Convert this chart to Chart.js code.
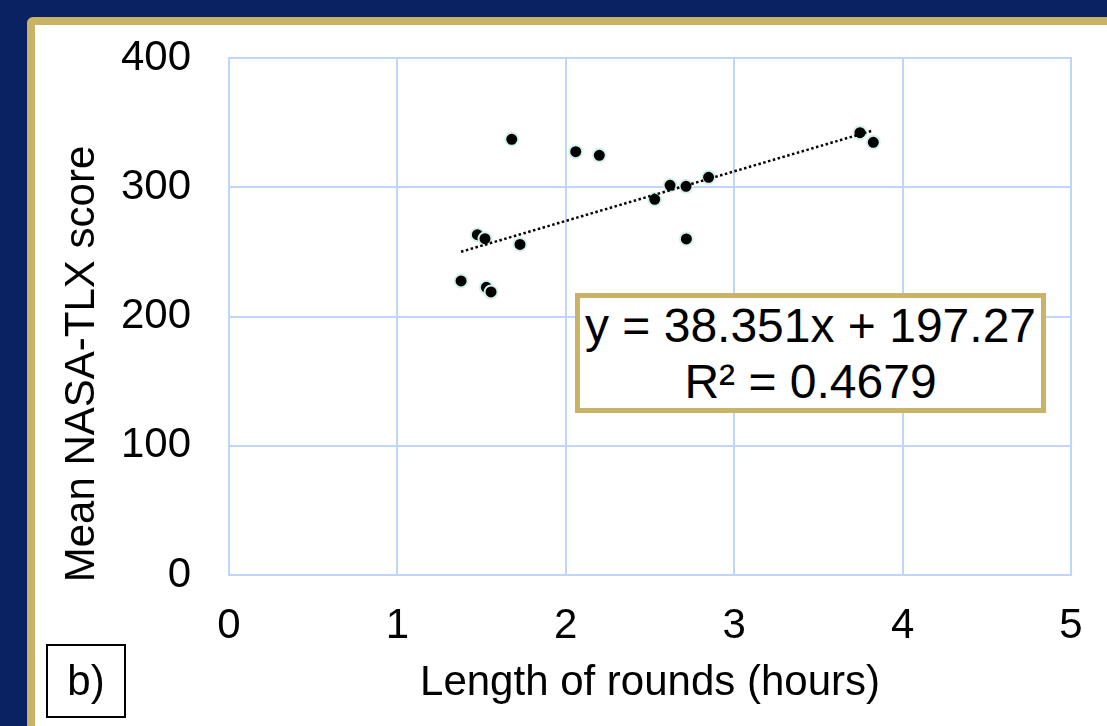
<!DOCTYPE html>
<html>
<head>
<meta charset="utf-8">
<script src="https://cdn.jsdelivr.net/npm/chart.js@4.4.1/dist/chart.umd.min.js"></script>
<style>
    html, body {
        margin: 0;
        padding: 0;
        width: 1107px;
        height: 726px;
        overflow: hidden;
        background: #0b2262;
        font-family: "Liberation Sans", Arial, sans-serif;
    }
    #panel {
        position: absolute;
        left: 27px;
        top: 17px;
        width: 1120px;
        height: 760px;
        border: 8px solid #c9b367;
        border-radius: 6px;
        background: #ffffff;
    }
    #chartBox {
        position: absolute;
        left: 0;
        top: 0;
        width: 1107px;
        height: 726px;
    }
    #equation {
        position: absolute;
        left: 575px;
        top: 293px;
        width: 461px;
        height: 110px;
        border: 5px solid #c9b367;
        background: #ffffff;
        text-align: center;
        font-size: 48px;
        line-height: 56px;
        color: #000;
    }
    #panelLabel {
        position: absolute;
        left: 46px;
        top: 644px;
        width: 76px;
        height: 70px;
        border: 2px solid #000;
        text-align: center;
        font-size: 42px;
        line-height: 70px;
        color: #000;
    }
</style>
</head>
<body>
<div id="panel"></div>
<div id="chartBox"><canvas id="chart" width="1107" height="726"></canvas></div>
<div id="equation">y = 38.351x + 197.27<br>R² = 0.4679</div>
<div id="panelLabel">b)</div>

<script>
// data
let roundHours = [1.679, 2.059, 2.199, 2.619, 2.714, 2.848, 2.528, 2.716, 1.475, 1.520, 1.728, 1.378, 1.528, 1.556, 3.747, 3.826];
let tlxScores = [337.1, 327.5, 324.7, 301.5, 300.7, 307.7, 290.7, 260.0, 263.3, 260.2, 255.8, 227.5, 222.6, 219.0, 342.2, 334.8];

// linear trendline end points (dotted line)
let trendHours = [1.378, 3.826];
let trendScores = [250.1, 344.0];

let xTitle = "Length of rounds (hours)";
let yTitle = "Mean NASA-TLX score";

let gridColor = "#c0d5fa";
let fontFamily = "'Liberation Sans', Arial, sans-serif";

// draws the y axis title a bit below the centre, like in the original
const yTitlePlugin = {
    id: "yTitlePlugin",
    afterDraw(chart) {
        const ctx = chart.ctx;
        ctx.save();
        ctx.translate(82, 364);
        ctx.rotate(-Math.PI / 2);
        ctx.font = "42px " + fontFamily;
        ctx.fillStyle = "#000";
        ctx.textAlign = "center";
        ctx.textBaseline = "middle";
        ctx.fillText(yTitle, 0, 0);
        ctx.restore();
    }
};

let scatterPoints = roundHours.map((h, i) => ({ x: h, y: tlxScores[i] }));
let trendPoints = trendHours.map((h, i) => ({ x: h, y: trendScores[i] }));

new Chart(document.getElementById("chart"), {
    type: "scatter",
    data: {
        datasets: [
            {
                label: "Rounds",
                data: scatterPoints,
                backgroundColor: "#000000",
                borderColor: "#d4f1ec",
                borderWidth: 2,
                pointRadius: 6.5,
                pointHoverRadius: 6.5,
                order: 2
            },
            {
                label: "Trend",
                type: "line",
                data: trendPoints,
                borderColor: "#000000",
                borderWidth: 2.5,
                borderDash: [2.5, 2.5],
                pointRadius: 0,
                fill: false,
                order: 1
            }
        ]
    },
    options: {
        responsive: false,
        animation: false,
        layout: {
            padding: { left: 0, right: 36, top: 58, bottom: 0 }
        },
        plugins: {
            legend: { display: false },
            tooltip: { enabled: false }
        },
        scales: {
            x: {
                type: "linear",
                min: 0,
                max: 5,
                ticks: {
                    stepSize: 1,
                    padding: 26,
                    color: "#000",
                    font: { family: fontFamily, size: 42 }
                },
                grid: {
                    color: gridColor,
                    lineWidth: 2,
                    drawTicks: false
                },
                border: { color: gridColor, width: 2 },
                title: {
                    display: true,
                    text: xTitle,
                    color: "#000",
                    font: { family: fontFamily, size: 42 },
                    padding: { top: 0, bottom: 17 }
                },
                afterFit: (scale) => {
                    scale.height = 151;
                    scale.paddingLeft = 0;
                    scale.paddingRight = 0;
                }
            },
            y: {
                min: 0,
                max: 400,
                ticks: {
                    stepSize: 100,
                    padding: 38,
                    color: "#000",
                    font: { family: fontFamily, size: 42 }
                },
                grid: {
                    color: gridColor,
                    lineWidth: 2,
                    drawTicks: false
                },
                border: { color: gridColor, width: 2 },
                afterFit: (scale) => {
                    scale.width = 229;
                    scale.paddingTop = 0;
                    scale.paddingBottom = 0;
                }
            },
            // second pair of axes only for the top / right frame of the plot
            xTop: {
                type: "linear",
                position: "top",
                min: 0,
                max: 5,
                ticks: { display: false },
                grid: { display: false },
                border: { color: gridColor, width: 2 },
                afterFit: (scale) => { scale.height = 0; }
            },
            yRight: {
                position: "right",
                min: 0,
                max: 400,
                ticks: { display: false },
                grid: { display: false },
                border: { color: gridColor, width: 2 },
                afterFit: (scale) => { scale.width = 0; }
            }
        }
    },
    plugins: [yTitlePlugin]
});
</script>
</body>
</html>
